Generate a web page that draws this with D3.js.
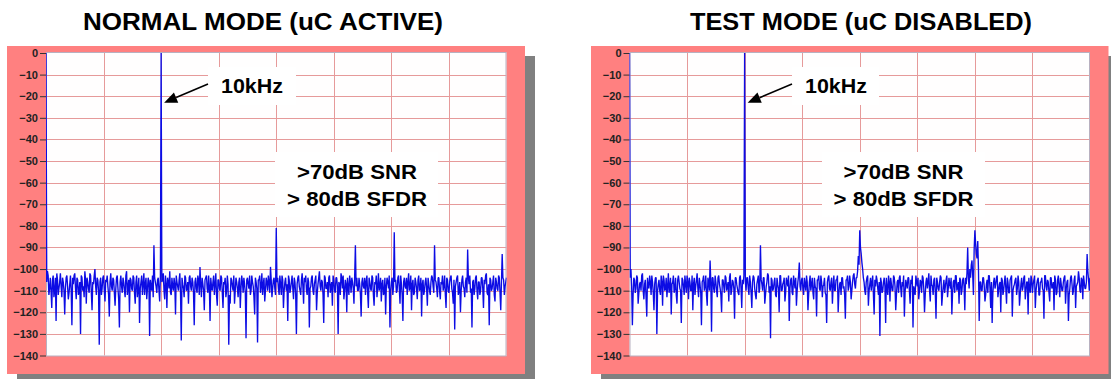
<!DOCTYPE html>
<html><head><meta charset="utf-8">
<script src="https://cdn.jsdelivr.net/npm/d3@7"></script>
<style>body{margin:0;background:#fff;overflow:hidden;} svg{display:block;}</style>
</head><body>
<script>
// ---- data (dB values) ----
// "Bin" arrays: values at every 125 Hz; "Mid" arrays: values halfway between those bins.
const binHz = 125;
const normalDbBin = [
0,-101,-112,-104,-118,-103,-110,-124,-105,-109,-102,-113,-106,-121,-104,-108,-111,-103,-126,-107,
-102,-114,-105,-110,-130,-104,-108,-101,-116,-106,-111,-103,-119,-107,-100,-112,-105,-135,-104,-109,
-103,-115,-106,-108,-122,-102,-110,-105,-117,-104,-109,-127,-103,-111,-106,-113,-101,-108,-120,-105,
-110,-104,-116,-103,-109,-125,-106,-112,-102,-107,-114,-104,-131,-108,-103,-89,-106,-111,-104,-115,
0,-105,-110,-103,-118,-106,-101,-112,-108,-104,-121,-106,-110,-102,-133,-107,-113,-104,-109,-116,
-103,-110,-106,-126,-104,-111,-105,-99,-113,-107,-119,-104,-109,-103,-124,-108,-106,-112,-102,-117,
-105,-110,-104,-118,-107,-113,-103,-135,-116,-105,-110,-116,-104,-109,-106,-118,-103,-111,-107,-132,
-104,-109,-112,-103,-108,-121,-106,-134,-105,-111,-102,-107,-115,-104,-110,-106,-99,-113,-105,-109,
-81,-104,-112,-107,-103,-118,-106,-110,-124,-105,-109,-103,-114,-106,-130,-104,-108,-112,-102,-116,
-106,-110,-104,-127,-108,-103,-112,-105,-119,-107,-101,-110,-106,-125,-104,-109,-113,-103,-108,-117,
-105,-111,-104,-130,-107,-102,-109,-114,-105,-120,-108,-103,-111,-106,-116,-89,-104,-110,-107,-122,
-104,-109,-112,-103,-118,-106,-110,-104,-117,-107,-113,-102,-108,-115,-105,-111,-121,-104,-109,-127,
-106,-112,-83,-105,-110,-103,-116,-107,-124,-104,-109,-112,-102,-108,-119,-105,-111,-106,-114,-103,
-109,-122,-105,-110,-104,-117,-107,-112,-103,-108,-89,-106,-113,-104,-114,-107,-110,-103,-118,-105,
-111,-104,-109,-116,-128,-106,-103,-110,-120,-105,-108,-113,-104,-91,-107,-111,-127,-105,-109,-103,
-114,-106,-110,-104,-118,-107,-102,-112,-126,-105,-109,-103,-115,-106,-110,-104,-119,-93,-105,-108,
-104
];
const normalDbMid = [
-106,-103,-109,-110,-105,-113,-104,-102,-112,-106,-108,-104,-110,-109,-103,-114,-107,-110,-104,-103,
-109,-104,-112,-106,-103,-110,-113,-105,-104,-109,-102,-111,-106,-103,-108,-104,-110,-106,-112,-104,
-110,-105,-103,-112,-106,-108,-104,-111,-109,-103,-114,-106,-108,-104,-110,-103,-112,-105,-104,-109,
-103,-111,-106,-113,-104,-109,-103,-107,-112,-104,-109,-106,-105,-110,-113,-104,-108,-105,-110,-103,
-106,-102,-114,-107,-104,-109,-111,-104,-110,-107,-103,-108,-105,-112,-104,-109,-103,-110,-106,-104,
-108,-104,-111,-106,-109,-103,-112,-107,-104,-110,-105,-103,-111,-108,-104,-110,-103,-107,-112,-105,
-109,-103,-111,-106,-104,-110,-107,-112,-104,-108,-103,-110,-106,-113,-104,-109,-106,-104,-111,-105,
-107,-103,-110,-106,-113,-104,-109,-105,-103,-108,-112,-104,-110,-106,-103,-111,-105,-109,-104,-112,
-106,-109,-103,-112,-105,-110,-104,-107,-103,-111,-106,-109,-104,-112,-107,-103,-110,-105,-108,-104,
-103,-112,-106,-109,-104,-110,-107,-103,-111,-104,-108,-105,-112,-103,-109,-106,-104,-111,-106,-103,
-110,-104,-108,-106,-112,-104,-103,-110,-107,-104,-112,-106,-104,-109,-103,-108,-110,-104,-112,-106,
-108,-104,-106,-111,-104,-109,-103,-112,-106,-103,-108,-110,-104,-107,-112,-104,-108,-106,-103,-110,
-104,-108,-106,-111,-104,-109,-103,-112,-106,-108,-104,-106,-110,-103,-107,-112,-104,-109,-105,-110,
-104,-107,-112,-106,-109,-104,-110,-106,-104,-111,-105,-109,-104,-110,-106,-103,-108,-112,-104,-110,
-106,-103,-111,-105,-108,-104,-112,-106,-110,-103,-109,-106,-111,-104,-103,-109,-106,-112,-104,-110,
-106,-112,-104,-109,-105,-103,-111,-107,-104,-110,-106,-112,-104,-109,-103,-111,-106,-104,-112,-106
];
const testDbBin = [
0,-100,-126,-104,-111,-103,-116,-107,-110,-102,-114,-105,-122,-108,-103,-112,-106,-119,-104,-130,
-107,-110,-103,-117,-105,-109,-113,-102,-108,-121,-106,-111,-104,-116,-103,-109,-125,-105,-112,-107,
-103,-114,-106,-110,-119,-104,-108,-102,-113,-107,-126,-105,-110,-103,-117,-106,-96,-129,-104,-111,
-106,-113,-103,-109,-120,-105,-111,-104,-108,-115,-102,-110,-106,-123,-104,-109,-112,-103,-118,-107,
0,-110,-104,-112,-106,-118,-103,-109,-114,-105,-111,-89,-107,-104,-116,-108,-102,-111,-132,-105,
-109,-104,-113,-107,-120,-103,-110,-106,-115,-104,-108,-124,-105,-111,-103,-109,-117,-106,-97,-110,
-104,-112,-107,-103,-119,-106,-110,-104,-114,-108,-122,-105,-109,-103,-113,-107,-111,-125,-104,-109,
-106,-116,-103,-110,-105,-120,-107,-112,-104,-108,-123,-105,-110,-103,-114,-106,-102,-109,-104,-94,
-82,-93,-100,-106,-112,-104,-117,-107,-110,-103,-121,-108,-105,-112,-131,-106,-110,-104,-125,-109,
-103,-115,-107,-110,-104,-119,-106,-111,-103,-113,-108,-122,-105,-109,-104,-116,-107,-127,-110,-103,
-108,-114,-105,-111,-104,-120,-106,-109,-102,-115,-107,-112,-104,-123,-106,-110,-103,-117,-108,-111,
-105,-113,-104,-109,-121,-106,-111,-103,-108,-116,-105,-110,-104,-119,-107,-90,-109,-104,-96,-112,
-82,-93,-87,-124,-106,-110,-104,-115,-107,-111,-103,-118,-125,-106,-109,-104,-113,-107,-120,-105,
-110,-103,-116,-106,-111,-104,-122,-108,-105,-112,-103,-117,-107,-110,-104,-114,-106,-121,-109,-103,
-111,-105,-118,-107,-104,-112,-106,-109,-123,-103,-110,-106,-115,-104,-108,-119,-105,-111,-103,-113,
-107,-110,-104,-116,-106,-124,-109,-103,-112,-105,-118,-107,-101,-110,-104,-114,-106,-109,-93,-105,
-104
];
const testDbMid = [
-104,-108,-112,-105,-109,-104,-111,-106,-103,-110,-107,-113,-104,-109,-106,-103,-111,-107,-104,-110,
-105,-112,-106,-103,-110,-104,-108,-111,-104,-107,-103,-109,-112,-105,-106,-110,-104,-108,-103,-111,
-106,-104,-110,-103,-107,-112,-105,-109,-104,-111,-106,-103,-108,-112,-104,-110,-106,-104,-109,-103,
-110,-104,-107,-112,-105,-108,-103,-110,-106,-104,-112,-105,-109,-104,-107,-111,-104,-109,-105,-103,
-106,-104,-109,-103,-111,-106,-104,-112,-107,-103,-109,-105,-110,-104,-112,-106,-103,-108,-104,-110,
-106,-112,-104,-109,-103,-110,-107,-104,-111,-106,-103,-109,-104,-112,-106,-104,-110,-103,-108,-105,
-109,-104,-110,-106,-112,-103,-107,-111,-104,-109,-105,-103,-110,-106,-108,-104,-112,-106,-103,-110,
-104,-108,-110,-105,-103,-111,-106,-104,-109,-112,-105,-103,-108,-106,-110,-103,-107,-104,-101,-98,
-90,-97,-104,-110,-106,-103,-110,-104,-106,-112,-105,-103,-109,-106,-104,-111,-106,-108,-104,-112,
-106,-104,-110,-103,-108,-112,-105,-104,-109,-106,-103,-111,-107,-104,-110,-105,-103,-108,-112,-106,
-104,-110,-106,-103,-109,-112,-104,-106,-110,-103,-108,-105,-111,-104,-109,-106,-104,-112,-105,-108,
-103,-109,-107,-104,-111,-105,-103,-110,-106,-104,-112,-105,-108,-104,-102,-104,-100,-98,-103,-91,
-88,-95,-100,-106,-110,-104,-108,-112,-105,-103,-109,-106,-111,-104,-107,-103,-110,-106,-104,-112,
-106,-109,-104,-111,-105,-103,-110,-107,-104,-109,-106,-112,-104,-108,-103,-110,-106,-104,-111,-105,
-107,-103,-110,-105,-112,-106,-104,-110,-103,-108,-105,-111,-104,-109,-106,-103,-112,-105,-108,-104,
-110,-106,-103,-109,-105,-112,-104,-107,-110,-103,-108,-106,-104,-111,-105,-103,-109,-106,-101,-110
];
const yTicks = [0,-10,-20,-30,-40,-50,-60,-70,-80,-90,-100,-110,-120,-130,-140];
const xTicks = [0,5000,10000,15000,20000,25000,30000,35000,40000];
const xTickLabels = ["0.00E+0","5.00E+3","10.00E+3","15.00E+3","20.00E+3","25.00E+3","30.00E+3","35.00E+3","40.00E+3"];
const titles = ["NORMAL MODE (uC ACTIVE)","TEST MODE (uC DISABLED)"];
const toneHz = 10000;
const toneLabel = "10kHz";
const specLines = [">70dB SNR","> 80dB SFDR"];

// merge bin + mid-bin readings into [Hz, dB] points
function spectrum(bin, mid) {
  const pts = [];
  bin.forEach((v, i) => {
    pts.push([i * binHz, v]);
    if (i < mid.length) pts.push([i * binHz + binHz / 2, mid[i]]);
  });
  return pts;
}

// ---- layout ----
const W = 1111, H = 379;
const FONT = "'Liberation Sans', Arial, sans-serif";
const svg = d3.select("body").append("svg").attr("width", W).attr("height", H);

const panels = [
  {title: titles[0], data: spectrum(normalDbBin, normalDbMid), frameX: 7, plotX0: 46, plotX1: 506.5, titleCx: 263, titleW: 360,
   toneBox: [208, 67, 88, 38], toneCx: 252, toneW: 62, specBox: [275, 152, 163, 65], specCx: 357},
  {title: titles[1], data: spectrum(testDbBin, testDbMid), frameX: 591, plotX0: 629.5, plotX1: 1090, titleCx: 861, titleW: 342,
   toneBox: [792, 67, 87, 38], toneCx: 836, toneW: 62, specBox: [822, 152, 163, 65], specCx: 903.5}
];
const frameY0 = 46, frameY1 = 374;
const plotY0 = 53, plotY1 = 355.5;

panels.forEach((p, k) => {
  const frameW = p.plotX1 + 18.5 - p.frameX;
  const g = svg.append("g");
  g.append("rect").attr("x", p.frameX + 10).attr("y", frameY0 + 10)
    .attr("width", frameW).attr("height", frameY1 - frameY0).attr("fill", "#808080");
  g.append("rect").attr("x", p.frameX).attr("y", frameY0)
    .attr("width", frameW).attr("height", frameY1 - frameY0).attr("fill", "#ff8080");

  const clipF = "clipF" + k, clipP = "clipP" + k;
  svg.append("clipPath").attr("id", clipF).append("rect")
    .attr("x", p.frameX).attr("y", frameY0).attr("width", frameW).attr("height", frameY1 - frameY0);
  svg.append("clipPath").attr("id", clipP).append("rect")
    .attr("x", p.plotX0).attr("y", plotY0 - 0.5).attr("width", p.plotX1 - p.plotX0).attr("height", plotY1 - plotY0 + 1);

  const x = d3.scaleLinear().domain([0, 40000]).range([p.plotX0, p.plotX1]);
  const y = d3.scaleLinear().domain([0, -140]).range([plotY0, plotY1]);

  g.append("rect").attr("x", p.plotX0).attr("y", plotY0 - 0.5)
    .attr("width", p.plotX1 - p.plotX0).attr("height", plotY1 - plotY0 + 1).attr("fill", "#fffefe");

  const grid = g.append("g").attr("stroke", "#e69a9a").attr("stroke-width", 1);
  grid.selectAll("line.h").data(yTicks.slice(1, -1)).join("line")
    .attr("x1", p.plotX0).attr("x2", p.plotX1)
    .attr("y1", d => Math.round(y(d)) + 0.5).attr("y2", d => Math.round(y(d)) + 0.5);
  grid.selectAll("line.v").data(xTicks.slice(1, -1)).join("line")
    .attr("y1", plotY0).attr("y2", plotY1)
    .attr("x1", d => Math.round(x(d)) + 0.5).attr("x2", d => Math.round(x(d)) + 0.5);

  g.append("rect").attr("x", p.plotX0 + 0.5).attr("y", plotY0 - 0.5)
    .attr("width", p.plotX1 - p.plotX0 - 1).attr("height", plotY1 - plotY0 + 1)
    .attr("fill", "none").attr("stroke", "#b8b0c0").attr("stroke-width", 1);

  const yAxis = d3.axisLeft(y).tickValues(yTicks).tickSize(6).tickPadding(2).tickFormat(d3.format("d"));
  const ya = g.append("g").attr("transform", `translate(${p.plotX0},0)`).call(yAxis);
  ya.select(".domain").remove();
  ya.selectAll("line").attr("stroke", "#333");
  ya.selectAll("text").attr("font-family", FONT).attr("font-weight", "bold")
    .attr("font-size", 11).attr("fill", "#222");

  const xAxis = d3.axisBottom(x).tickValues(xTicks).tickSize(4).tickPadding(2)
    .tickFormat((d, i) => xTickLabels[i]);
  const xa = g.append("g").attr("transform", `translate(0,${plotY1})`).attr("clip-path", `url(#${clipF})`).call(xAxis);
  xa.select(".domain").remove();
  xa.selectAll("line").attr("stroke", "#333");
  xa.selectAll("text").attr("font-family", FONT).attr("font-weight", "bold")
    .attr("font-size", 11).attr("fill", "#222");

  const line = d3.line().x(d => x(d[0])).y(d => y(d[1]));
  g.append("path").datum(p.data).attr("clip-path", `url(#${clipP})`)
    .attr("d", line).attr("fill", "none").attr("stroke", "#0c0ce4")
    .attr("stroke-width", 1.35).attr("stroke-linejoin", "bevel");

  svg.append("text").attr("x", p.titleCx - p.titleW / 2).attr("y", 29.5)
    .attr("textLength", p.titleW).attr("lengthAdjust", "spacingAndGlyphs")
    .attr("font-family", FONT).attr("font-weight", "bold").attr("font-size", 23)
    .attr("fill", "#000").text(p.title);

  const [bx, by, bw, bh] = p.toneBox;
  g.append("rect").attr("x", bx).attr("y", by).attr("width", bw).attr("height", bh).attr("fill", "#fff");
  g.append("text").attr("x", p.toneCx - p.toneW / 2).attr("y", 93)
    .attr("textLength", p.toneW).attr("lengthAdjust", "spacingAndGlyphs")
    .attr("font-family", FONT).attr("font-weight", "bold").attr("font-size", 20)
    .attr("fill", "#000").text(toneLabel);
  const tail = [bx, 84], tip = [x(toneHz) + 3, y(-23)];
  const dx = tip[0] - tail[0], dy = tip[1] - tail[1], L = Math.hypot(dx, dy);
  const ux = dx / L, uy = dy / L, hl = 13, hw = 5.5;
  const base = [tip[0] - ux * hl, tip[1] - uy * hl];
  g.append("line").attr("x1", tail[0]).attr("y1", tail[1]).attr("x2", base[0]).attr("y2", base[1])
    .attr("stroke", "#000").attr("stroke-width", 1.6);
  g.append("path").attr("d", `M${tip[0]},${tip[1]} L${base[0] - uy * hw},${base[1] + ux * hw} L${base[0] + uy * hw},${base[1] - ux * hw} Z`)
    .attr("fill", "#000");

  const [sx, sy, sw, sh] = p.specBox;
  g.append("rect").attr("x", sx).attr("y", sy).attr("width", sw).attr("height", sh).attr("fill", "#fff");
  const specW = [120, 140];
  specLines.forEach((t, i) => {
    g.append("text").attr("x", p.specCx - specW[i] / 2).attr("y", 179 + i * 27)
      .attr("textLength", specW[i]).attr("lengthAdjust", "spacingAndGlyphs")
      .attr("font-family", FONT).attr("font-weight", "bold").attr("font-size", 20)
      .attr("fill", "#000").text(t);
  });
});
</script>
</body></html>
